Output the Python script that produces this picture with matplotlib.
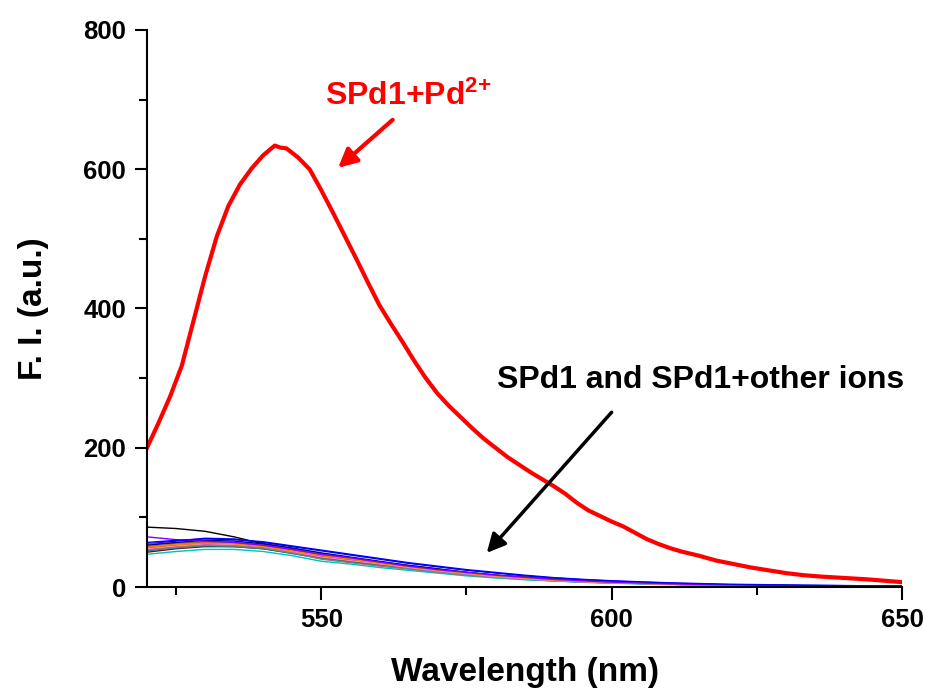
import matplotlib
matplotlib.use("Agg")
import matplotlib.pyplot as plt

plt.rcParams['font.family'] = ['Liberation Sans', 'DejaVu Sans']
plt.rcParams['font.weight'] = 'bold'
plt.rcParams['mathtext.fontset'] = 'custom'
plt.rcParams['mathtext.rm'] = 'Liberation Sans:bold'
plt.rcParams['mathtext.bf'] = 'Liberation Sans:bold'
plt.rcParams['mathtext.it'] = 'Liberation Sans:bold'

# SPd1 + Pd2+ emission spectrum
pd_wl = [520, 522, 524, 526, 528, 530, 532, 534, 536, 538, 540, 542, 543, 544,
         546, 548, 550, 552, 554, 556, 558, 560, 562, 564, 566, 568, 570, 572,
         574, 576, 578, 580, 582, 584, 586, 588, 590, 592, 594, 596, 598, 600,
         602, 604, 606, 608, 610, 612, 615, 618, 621, 624, 627, 630, 633, 636,
         640, 644, 647, 650]
pd_fi = [200, 236, 274, 318, 382, 446, 503, 547, 578, 601, 620, 634, 631, 630,
         617, 600, 570, 538, 505, 472, 438, 405, 378, 352, 325, 300, 278, 260,
         244, 228, 213, 200, 187, 176, 165, 155, 145, 134, 121, 110, 102, 94,
         87, 78, 69, 62, 56, 51, 45, 38, 33, 28, 24, 20, 17, 15,
         13, 11, 9, 7]

# SPd1 alone and SPd1 with other metal ions
ion_wl = [520, 525, 530, 535, 540, 545, 550, 555, 560, 565, 570, 575, 580,
          585, 590, 595, 600, 610, 620, 630, 640, 650]
ion_colors = ['#000000', '#ff0000', '#0000ff', '#ff00ff', '#808000', '#000080',
              '#800080', '#800000', '#008080', '#00c0c0', '#808080', '#ff80c0',
              '#ff8000', '#8000ff', '#0000ff']
ion_fi = [
    [86, 84, 80, 72, 62, 55, 47, 42, 36, 31, 26, 21, 17, 14, 11, 9, 7, 5, 3, 2, 1.5, 1],
    [56, 60, 63, 62, 59, 53, 46, 40, 35, 29, 24, 20, 16, 13, 10, 8, 6.5, 4, 3, 2, 1.5, 1],
    [62, 66, 70, 69, 64, 58, 52, 46, 40, 34, 29, 24, 20, 16, 13, 10.5, 8.5, 5.5, 3.5, 2.5, 2, 1.5],
    [62, 63, 64, 62, 58, 52, 45, 39, 34, 28, 23, 19, 15, 12, 10, 8, 6.5, 4, 3, 2, 1.5, 1],
    [58, 62, 65, 64, 61, 55, 48, 42, 36, 30, 25, 21, 17, 14, 11, 9, 7, 4.5, 3, 2, 1.5, 1],
    [60, 64, 67, 66, 62, 56, 49, 43, 37, 31, 26, 21, 17, 14, 11, 9, 7, 4.5, 3, 2, 1.5, 1],
    [54, 58, 61, 60, 57, 51, 44, 39, 33, 28, 23, 19, 15, 12, 10, 8, 6.5, 4, 2.5, 2, 1.5, 1],
    [50, 55, 58, 58, 55, 49, 42, 37, 32, 27, 22, 18, 15, 12, 9.5, 7.5, 6, 4, 2.5, 1.5, 1, 1],
    [52, 56, 59, 58, 55, 48, 41, 36, 31, 26, 22, 18, 14, 11, 9, 7, 6, 4, 2.5, 1.5, 1, 0.5],
    [47, 51, 54, 54, 51, 45, 37, 33, 28, 24, 20, 16, 13, 10.5, 8.5, 7, 5.5, 3.5, 2, 1.5, 1, 0.5],
    [53, 57, 60, 59, 56, 49, 40, 35, 30, 26, 21, 17, 14, 11.5, 9, 7, 6, 4, 2.5, 1.5, 1, 0.5],
    [55, 59, 62, 61, 58, 51, 43, 38, 33, 28, 23, 19, 15, 12, 9.5, 7.5, 6, 4, 2.5, 1.5, 1, 0.5],
    [57, 61, 63, 62, 58, 52, 45, 40, 34, 29, 24, 20, 16, 13, 10, 8, 6.5, 4, 3, 2, 1.5, 1],
    [72, 68, 66, 64, 60, 54, 47, 42, 36, 30, 25, 21, 17, 14, 11, 9, 7, 4.5, 3, 2, 1.5, 1],
    [64, 67, 69, 68, 65, 59, 53, 47, 41, 35, 30, 25, 21, 17, 13.5, 11, 9, 6, 4, 3, 2, 1.5],
]

fig = plt.figure(figsize=(9.28, 6.91), dpi=100)
ax = fig.add_axes([0.1584, 0.1505, 0.8136, 0.8061])

for c, fi in zip(ion_colors, ion_fi):
    ax.plot(ion_wl, fi, color=c, lw=1.0)
ax.plot(pd_wl, pd_fi, color='#ff0000', lw=3.0)

ax.set_xlim(520, 650)
ax.set_ylim(0, 800)
ax.set_xticks([550, 600, 650])
ax.set_xticks([525, 575, 625], minor=True)
ax.set_yticks([0, 200, 400, 600, 800])
ax.set_yticks([100, 300, 500, 700], minor=True)

for s in ['top', 'right']:
    ax.spines[s].set_visible(False)
for s in ['left', 'bottom']:
    ax.spines[s].set_linewidth(1.5)
ax.tick_params(which='major', direction='out', length=9, width=1.5,
               labelsize=18.5, pad=6)
ax.tick_params(which='minor', direction='out', length=6, width=1.5)
for lab in ax.get_xticklabels() + ax.get_yticklabels():
    lab.set_fontweight('bold')

ax.set_xlabel('Wavelength (nm)', fontsize=24, fontweight='bold', labelpad=18)
ax.set_ylabel('F. I. (a.u.)', fontsize=24, fontweight='bold', labelpad=25)

ax.text(550.6, 692, 'SPd1+Pd$^{2{+}}$', color='#ff0000', fontsize=23,
        fontweight='bold', ha='left', va='baseline')
ax.annotate('', xy=(552.9, 602), xytext=(562.3, 671),
            arrowprops=dict(arrowstyle='-|>', color='#ff0000', lw=3,
                            mutation_scale=28, shrinkA=0, shrinkB=0))

ax.text(580.2, 286, 'SPd1 and SPd1+other ions', color='black', fontsize=23,
        fontweight='bold', ha='left', va='baseline')
ax.annotate('', xy=(578.5, 49), xytext=(600.0, 251),
            arrowprops=dict(arrowstyle='-|>', color='black', lw=2.5,
                            mutation_scale=28, shrinkA=0, shrinkB=0))

fig.savefig('out.png', dpi=100)
